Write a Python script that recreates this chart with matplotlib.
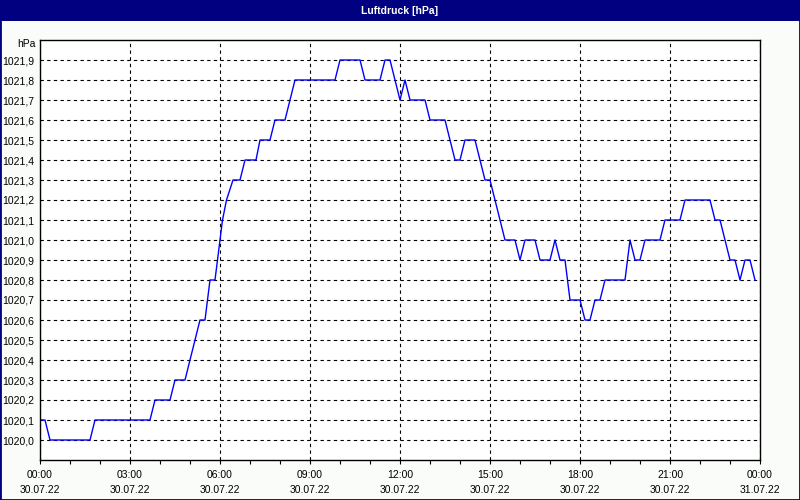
import numpy as np
import matplotlib
matplotlib.use('Agg')
import matplotlib.pyplot as plt
from matplotlib.patches import Rectangle

plt.rcParams['font.family'] = ['Liberation Sans', 'DejaVu Sans']

# Luftdruck vom 30.07.22, Stützpunkte der Kurve (Minuten seit 00:00, hPa)
minutes = [0, 10, 20, 100, 110, 220, 230, 260, 270, 290, 320, 330, 340, 350,
           360, 365, 373, 386, 400, 410, 432, 440, 460, 470, 490, 510, 590, 600,
           640, 650, 680, 690, 700, 720, 730, 740, 770, 780, 810, 830, 840,
           850, 870, 890, 900, 930, 950, 960, 970, 990, 1000, 1020, 1030,
           1040, 1050, 1060, 1080, 1090, 1100, 1110, 1120, 1130, 1170, 1180,
           1190, 1200, 1210, 1240, 1250, 1280, 1290, 1340, 1350, 1360, 1380,
           1390, 1400, 1410, 1420, 1430]
pressure = [1020.1, 1020.1, 1020.0, 1020.0, 1020.1, 1020.1, 1020.2, 1020.2,
            1020.3, 1020.3, 1020.6, 1020.6, 1020.8, 1020.8, 1021.0, 1021.1,
            1021.2, 1021.3, 1021.3, 1021.4, 1021.4, 1021.5, 1021.5, 1021.6,
            1021.6, 1021.8, 1021.8, 1021.9, 1021.9, 1021.8, 1021.8, 1021.9,
            1021.9, 1021.7, 1021.8, 1021.7, 1021.7, 1021.6, 1021.6, 1021.4,
            1021.4, 1021.5, 1021.5, 1021.3, 1021.3, 1021.0, 1021.0, 1020.9,
            1021.0, 1021.0, 1020.9, 1020.9, 1021.0, 1020.9, 1020.9, 1020.7,
            1020.7, 1020.6, 1020.6, 1020.7, 1020.7, 1020.8, 1020.8, 1021.0,
            1020.9, 1020.9, 1021.0, 1021.0, 1021.1, 1021.1, 1021.2, 1021.2,
            1021.1, 1021.1, 1020.9, 1020.9, 1020.8, 1020.9, 1020.9, 1020.8]

tick_hours = [0, 3, 6, 9, 12, 15, 18, 21, 24]
tick_labels = ['00:00\n30.07.22', '03:00\n30.07.22', '06:00\n30.07.22',
               '09:00\n30.07.22', '12:00\n30.07.22', '15:00\n30.07.22',
               '18:00\n30.07.22', '21:00\n30.07.22', '00:00\n31.07.22']
y_ticks = np.round(np.arange(1020.0, 1021.95, 0.1), 1)

NAVY = '#000080'
BG = '#FAFCFA'
FS = 7.5

fig = plt.figure(figsize=(8, 5), dpi=100, facecolor=BG)
ax = fig.add_axes([40 / 800, 40 / 500, 720 / 800, 420 / 500])
ax.set_facecolor('white')

hours = np.array(minutes) / 60.0
ax.plot(hours, pressure, color='#0000FF', linewidth=1.0)

ax.set_xlim(0, 24)
ax.set_ylim(1019.9, 1022.0)

ax.set_xticks(tick_hours)
ax.set_xticklabels(tick_labels, fontsize=FS)
ax.set_xticks(range(25), minor=True)
ax.tick_params(axis='x', which='both', direction='out', length=3, width=0.8, pad=4)
for lbl in ax.get_xticklabels():
    lbl.set_linespacing(1.6)

ax.set_yticks(y_ticks)
ax.set_yticklabels([f'{v:.1f}'.replace('.', ',') for v in y_ticks], fontsize=FS)
ax.tick_params(axis='y', length=0, pad=4)

ax.grid(True, which='major', color='black', linestyle=(0, (3, 3)), linewidth=0.8)
for sp in ax.spines.values():
    sp.set_color('black')
    sp.set_linewidth(1.0)

fig.text(36 / 800, 1 - 44 / 500, 'hPa', ha='right', va='center', fontsize=FS)

# Titelleiste und Rahmen
fig.patches.append(Rectangle((0, 1 - 21 / 500), 1, 21 / 500, transform=fig.transFigure,
                             facecolor=NAVY, edgecolor='none', zorder=0))
fig.patches.append(Rectangle((0, 0), 1, 1, transform=fig.transFigure,
                             facecolor='none', edgecolor=NAVY, linewidth=2, zorder=1))
fig.text(0.5, 1 - 10.5 / 500, 'Luftdruck [hPa]', ha='center', va='center',
         color='white', fontsize=FS, fontweight='bold')

fig.savefig('out.png', dpi=100, facecolor=BG)
